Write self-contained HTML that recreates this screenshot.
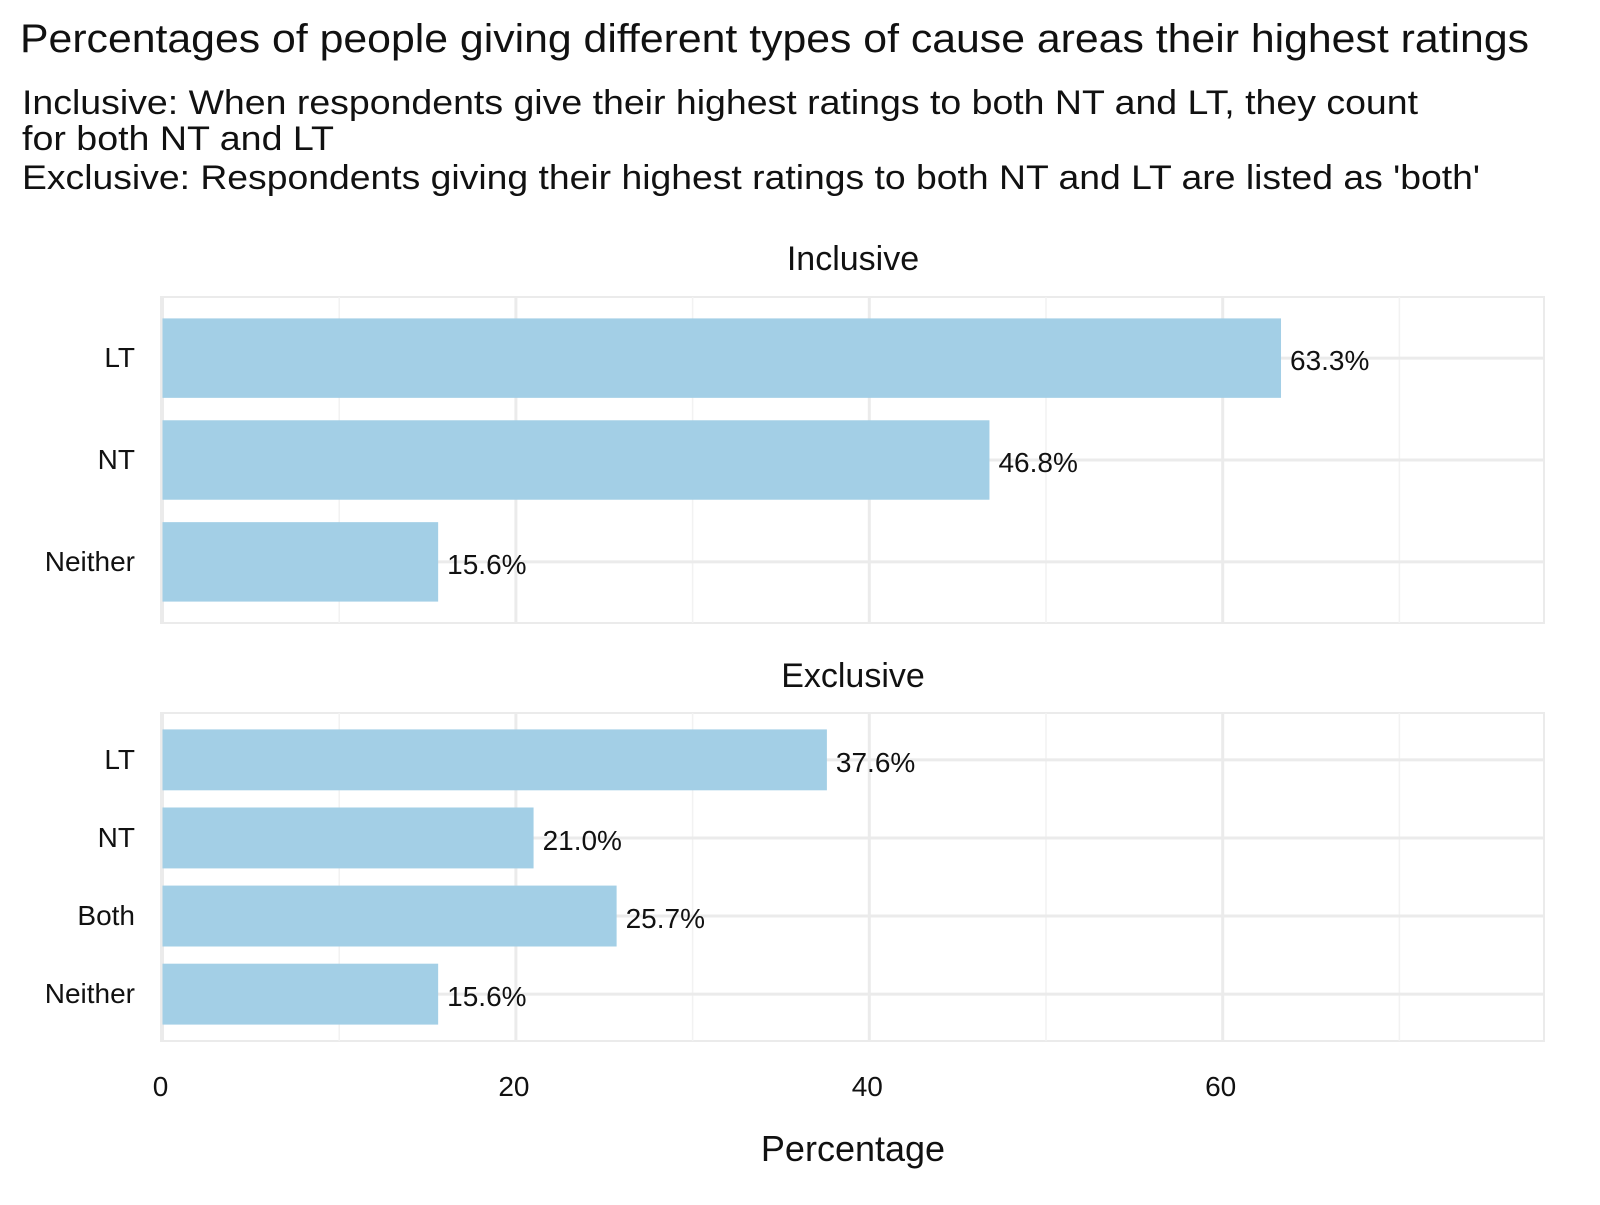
<!DOCTYPE html>
<html><head><meta charset="utf-8"><style>
body{margin:0;background:#fff}
svg text{font-family:"Liberation Sans",sans-serif;fill:#111}
</style></head><body>
<svg id="chart" width="1600" height="1200" viewBox="0 0 1600 1200">
<text x="20" y="52" font-size="40" textLength="1509" lengthAdjust="spacingAndGlyphs">Percentages of people giving different types of cause areas their highest ratings</text>
<text x="22" y="114" font-size="34" textLength="1396" lengthAdjust="spacingAndGlyphs">Inclusive: When respondents give their highest ratings to both NT and LT, they count</text>
<text x="22" y="150" font-size="34" textLength="312" lengthAdjust="spacingAndGlyphs">for both NT and LT</text>
<text x="22" y="189" font-size="34" textLength="1458" lengthAdjust="spacingAndGlyphs">Exclusive: Respondents giving their highest ratings to both NT and LT are listed as 'both'</text>
<text x="853" y="1161" font-size="36" text-anchor="middle">Percentage</text>
<g id="plot"></g>
</svg>
<script>
const incCats=["LT","NT","Neither"];
const incVals=[63.3,46.8,15.6];
const excCats=["LT","NT","Both","Neither"];
const excVals=[37.6,21.0,25.7,15.6];
const xTicks=[0,20,40,60];
const xMinor=[10,30,50,70];
const panelNames=["Inclusive","Exclusive"];

const NS="http://www.w3.org/2000/svg";
const g=document.getElementById('plot');
const L=161,R=1544,x0=162.5,per=17.67;
function sx(v){return x0+v*per;}
function mk(t,a,p){const e=document.createElementNS(NS,t);for(const k in a)e.setAttribute(k,a[k]);(p||g).appendChild(e);return e;}
function panel(name,cats,vals,top,bot,stripY){
  const t=mk('text',{x:853,y:stripY,'font-size':34,'text-anchor':'middle'});
  t.textContent=name;
  
  
  const fr=mk('rect',{x:L,y:top,width:R-L,height:bot-top,fill:'none',stroke:'#ebebeb','stroke-width':2});
  
  
  xMinor.forEach(v=>{const l=mk('line',{x1:sx(v),x2:sx(v),y1:top,y2:bot,stroke:'#f2f2f2','stroke-width':1.5});
    
    });
  xTicks.forEach(v=>{const l=mk('line',{x1:sx(v),x2:sx(v),y1:top,y2:bot,stroke:'#ebebeb','stroke-width':3});
    
    });
  const n=cats.length,band=(bot-top)/(n+0.2);
  cats.forEach((c,i)=>{
    const cy=top+band*(0.6+i);
    const hl=mk('line',{x1:L,x2:R,y1:cy,y2:cy,stroke:'#ebebeb','stroke-width':3});
    
    
  });
  cats.forEach((c,i)=>{
    const cy=top+band*(0.6+i),h=band*0.78;
    const b=mk('rect',{x:sx(0),y:cy-h/2,width:sx(vals[i])-sx(0),height:h,fill:'#a3cfe6'});
    
    
    const vl=mk('text',{x:sx(vals[i])+9,y:cy+12,'font-size':28});
    vl.textContent=vals[i].toFixed(1)+'%';
    
    
    const yl=mk('text',{x:135,y:cy+9,'font-size':28,'text-anchor':'end','fill':'#222'});
    yl.textContent=c;
    
    
  });
}
panel(panelNames[0],incCats,incVals,297,623,270);
panel(panelNames[1],excCats,excVals,713,1041,687);
xTicks.forEach(v=>{
  const t=mk('text',{x:sx(v)-2,y:1096,'font-size':28,'text-anchor':'middle'});
  t.textContent=v;
  
  
});
</script>
</body></html>
